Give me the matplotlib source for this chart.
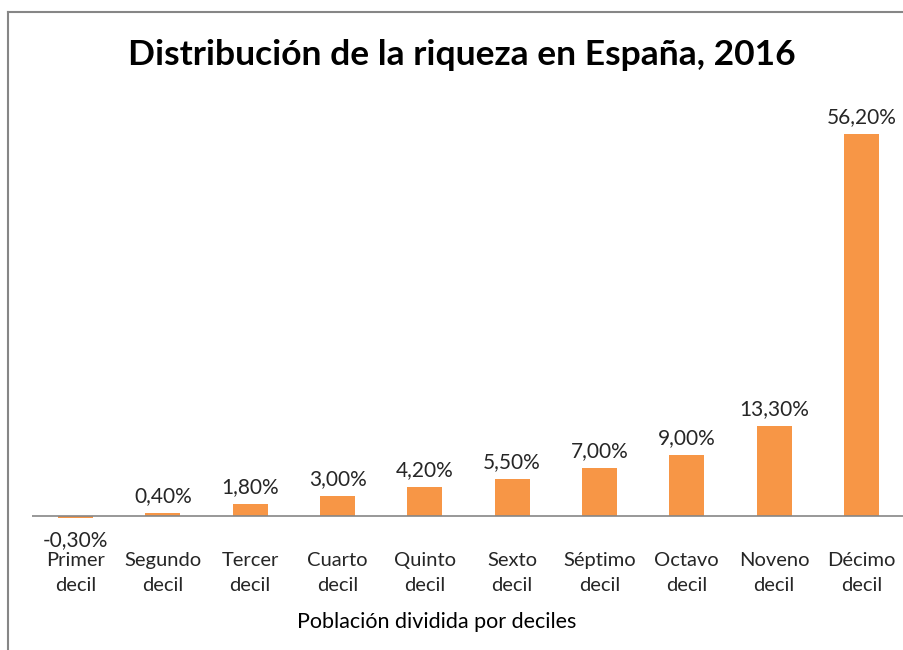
import matplotlib.pyplot as plt
from matplotlib.lines import Line2D

categorias = ["Primer\ndecil", "Segundo\ndecil", "Tercer\ndecil", "Cuarto\ndecil", "Quinto\ndecil",
              "Sexto\ndecil", "Séptimo\ndecil", "Octavo\ndecil", "Noveno\ndecil", "Décimo\ndecil"]
riqueza = [-0.3, 0.4, 1.8, 3.0, 4.2, 5.5, 7.0, 9.0, 13.3, 56.2]

plt.rcParams['font.family'] = ['Lato', 'DejaVu Sans']

W, H = 904, 650
fig = plt.figure(figsize=(W / 100, H / 100), dpi=100)

# axes placed in pixel coordinates: zero line at y=516
left, right = 32, 905
bottom, top = 520, 100
ax = fig.add_axes([left / W, 1 - bottom / H, (right - left) / W, (bottom - top) / H])
ppu = (516 - 134) / 56.2
ax.set_ylim(-(bottom - 516) / ppu, (516 - top) / ppu)
ax.set_xlim(-0.5, len(categorias) - 0.5)

x = range(len(categorias))
ax.bar(x, riqueza, width=0.4, color='#F79646', zorder=2)
ax.axhline(0, color='#868686', lw=1.2, zorder=3)

for i, v in enumerate(riqueza):
    txt = f"{v:.2f}%".replace('.', ',')
    if v >= 0:
        ax.annotate(txt, (i, v), xytext=(0, 5), textcoords='offset points',
                    ha='center', va='bottom', fontsize=15, color='#262626')
    else:
        ax.annotate(txt, (i, v), xytext=(0, -9), textcoords='offset points',
                    ha='center', va='top', fontsize=15, color='#262626')

ax.set_xticks(list(x))
ax.set_xticklabels(categorias, fontsize=14.5, color='#262626', linespacing=1.6)
ax.tick_params(axis='x', length=0, pad=23)
ax.set_yticks([])
for s in ax.spines.values():
    s.set_visible(False)
ax.patch.set_alpha(0)

fig.text(462 / W, 1 - 55 / H, "Distribución de la riqueza en España, 2016",
         ha='center', va='center', fontsize=25.5, fontweight='bold', color='black')
fig.text(437 / W, 1 - 622 / H, "Población dividida por deciles",
         ha='center', va='center', fontsize=15.5, color='black')

# chart frame (cropped): left and top edges
fig.add_artist(Line2D([8 / W, 8 / W], [0, 1 - 12 / H], transform=fig.transFigure, color='#868686', lw=1.5))
fig.add_artist(Line2D([8 / W, 1], [1 - 12 / H, 1 - 12 / H], transform=fig.transFigure, color='#868686', lw=1.5))

fig.savefig("out.png", dpi=100)
